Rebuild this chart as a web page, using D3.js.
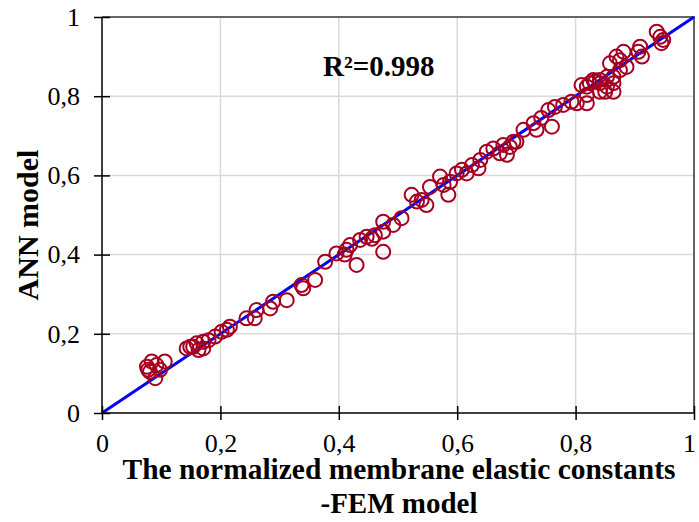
<html>
<head>
<style>
  body{margin:0;background:#fff}
  svg text{font-family:"Liberation Serif","Times New Roman",serif;fill:#000}
  .grid line{stroke:#d9d9d9;stroke-width:1.5px}
  .axis path{display:none}
  .axis line{stroke:#000;stroke-width:1.5px}
  .axis text{font-size:26px}
  .title{font-size:29px;font-weight:bold}
</style>
</head>
<body>
<div id="chart"></div>
<script src="https://d3js.org/d3.v7.min.js"></script>
<script>
// FEM model (x) against ANN model (y), normalized membrane elastic constants
var fem = [0.076,0.084,0.092,0.106,0.090,0.098,0.081,0.078,
  0.143,0.149,0.154,0.160,0.163,0.171,0.171,0.180,0.191,0.202,0.211,0.216,
  0.244,0.258,0.261,0.284,0.289,0.312,0.337,0.340,0.360,0.377,0.396,0.410,
  0.413,0.419,0.430,0.436,0.447,0.456,0.461,0.475,0.475,0.475,0.492,
  0.506,0.523,0.532,0.540,0.548,0.554,0.571,0.577,0.585,0.588,0.599,0.608,
  0.616,0.625,0.636,0.639,0.650,0.661,0.672,0.678,0.684,0.689,0.695,0.700,
  0.712,0.729,0.734,0.742,0.754,0.760,0.765,0.779,0.793,0.802,0.810,0.819,
  0.819,0.819,0.824,0.830,0.833,0.841,0.841,0.841,0.850,0.853,0.853,0.858,
  0.864,0.864,0.864,0.869,0.875,0.875,0.881,0.886,0.906,0.909,0.912,
  0.937,0.943,0.945,0.948];
var ann = [0.117,0.130,0.121,0.130,0.088,0.109,0.104,0.109,
  0.163,0.167,0.167,0.176,0.159,0.180,0.163,0.184,0.193,0.205,0.210,0.218,
  0.239,0.239,0.260,0.264,0.281,0.285,0.323,0.315,0.336,0.382,0.403,0.400,
  0.412,0.424,0.374,0.437,0.445,0.440,0.449,0.407,0.458,0.483,0.475,
  0.492,0.551,0.534,0.538,0.525,0.571,0.597,0.576,0.551,0.584,0.605,0.614,
  0.605,0.626,0.618,0.639,0.660,0.668,0.656,0.677,0.652,0.672,0.685,0.685,
  0.715,0.732,0.715,0.745,0.765,0.723,0.773,0.778,0.786,0.782,0.828,0.782,
  0.824,0.803,0.833,0.841,0.837,0.841,0.833,0.811,0.811,0.849,0.824,0.883,
  0.849,0.833,0.811,0.900,0.866,0.891,0.912,0.874,0.912,0.925,0.900,
  0.963,0.950,0.934,0.942];
var tickVals = [0, 0.2, 0.4, 0.6, 0.8, 1];
var gridVals = [0.2, 0.4, 0.6, 0.8];
var fitLine = [0, 1];
var r2Label = 'R\u00B2=0.998';
var xTitle = ['The normalized membrane elastic constants', '-FEM model'];
var yTitle = 'ANN model';

var W = 699, H = 522;
var pLeft = 102, pRight = 694, pTop = 17, pBottom = 413;

var x = d3.scaleLinear().domain([0, 1]).range([pLeft, pRight]);
var y = d3.scaleLinear().domain([0, 1]).range([pBottom, pTop]);
var fmt = function (d) { return String(d).replace('.', ','); };

var svg = d3.select('#chart').append('svg')
  .attr('width', W)
  .attr('height', H);

// grid
var grid = svg.append('g').attr('class', 'grid');
grid.selectAll('.gx').data(gridVals).enter().append('line')
  .attr('x1', function (d) { return x(d); })
  .attr('x2', function (d) { return x(d); })
  .attr('y1', y(0)).attr('y2', y(1));
grid.selectAll('.gy').data(gridVals).enter().append('line')
  .attr('y1', function (d) { return y(d); })
  .attr('y2', function (d) { return y(d); })
  .attr('x1', x(0)).attr('x2', x(1));

// top and right border
svg.append('path')
  .attr('d', 'M' + x(0) + ',' + y(1) + 'H' + x(1) + 'V' + y(0))
  .attr('fill', 'none')
  .attr('stroke', '#666')
  .attr('stroke-width', 2);

// fit line under the markers
svg.append('line')
  .attr('x1', x(fitLine[0])).attr('y1', y(fitLine[0]))
  .attr('x2', x(fitLine[1])).attr('y2', y(fitLine[1]))
  .attr('stroke', '#0000ff')
  .attr('stroke-width', 3);

// axes, ticks crossing the axis line
var xAxis = svg.append('g')
  .attr('class', 'axis')
  .attr('transform', 'translate(0,' + pBottom + ')')
  .call(d3.axisBottom(x).tickValues(tickVals).tickFormat(fmt).tickSize(7).tickPadding(14));
xAxis.selectAll('.tick line').attr('y1', -7);
xAxis.select('.tick:last-of-type text').attr('dx', -5);
xAxis.append('line').attr('x1', x(0)).attr('x2', x(1));

var yAxis = svg.append('g')
  .attr('class', 'axis')
  .attr('transform', 'translate(' + pLeft + ',0)')
  .call(d3.axisLeft(y).tickValues(tickVals).tickFormat(fmt).tickSize(8).tickPadding(14));
yAxis.selectAll('.tick line').attr('x1', 8);
yAxis.append('line').attr('y1', y(0)).attr('y2', y(1));

// markers
svg.append('g').selectAll('circle')
  .data(fem).enter().append('circle')
  .attr('cx', function (d) { return x(d); })
  .attr('cy', function (d, i) { return y(ann[i]); })
  .attr('r', 7)
  .attr('fill', 'none')
  .attr('stroke', '#a50021')
  .attr('stroke-width', 2);

// R2 label
svg.append('text')
  .attr('class', 'title')
  .attr('x', 323).attr('y', 76)
  .text(r2Label);

// axis titles
svg.append('text')
  .attr('class', 'title')
  .attr('x', 399).attr('y', 479)
  .attr('text-anchor', 'middle')
  .attr('textLength', 553)
  .attr('lengthAdjust', 'spacingAndGlyphs')
  .text(xTitle[0]);
svg.append('text')
  .attr('class', 'title')
  .attr('x', 399).attr('y', 513)
  .attr('text-anchor', 'middle')
  .text(xTitle[1]);

svg.append('text')
  .attr('class', 'title')
  .attr('transform', 'translate(38,225) rotate(-90)')
  .attr('text-anchor', 'middle')
  .style('font-size', '30px')
  .text(yTitle);
</script>
</body>
</html>
